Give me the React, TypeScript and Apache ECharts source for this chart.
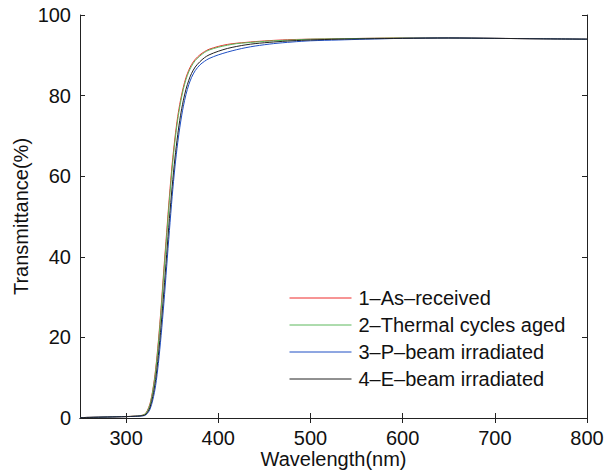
import React, { useEffect, useRef } from "react";
import * as echarts from "echarts";

const wavelengths = [
  250, 260, 270, 280, 290, 300, 310, 315, 320, 323, 326, 329, 332, 335, 338, 341, 344, 347,
  350, 353, 356, 359, 362, 365, 368, 371, 375, 380, 385, 390, 400, 410, 420, 430, 440, 460,
  480, 500, 530, 560, 600, 650, 700, 750, 800,
];

const asReceived = [
  0.1, 0.15, 0.2, 0.25, 0.3, 0.35, 0.45, 0.55, 0.9, 1.8, 3.6, 7, 12, 19, 27.5, 37, 46, 55,
  63, 69.5, 74.8, 78.8, 82, 84.5, 86.3, 87.7, 89, 90.1, 90.9, 91.5, 92.2, 92.7, 93.0, 93.2, 93.4, 93.7,
  93.9, 94.0, 94.1, 94.2, 94.3, 94.3, 94.2, 94.1, 94.0,
];

const thermalAged = [
  0.1, 0.15, 0.2, 0.25, 0.3, 0.35, 0.45, 0.55, 0.9, 1.7, 3.4, 6.7, 11.5, 18.3, 26.7, 36, 45, 54,
  62, 68.7, 74, 78.2, 81.5, 84, 85.9, 87.3, 88.7, 89.8, 90.7, 91.3, 92.0, 92.5, 92.9, 93.1, 93.3, 93.6,
  93.8, 94.0, 94.1, 94.2, 94.3, 94.3, 94.2, 94.1, 94.0,
];

const pBeam = [
  0.1, 0.15, 0.2, 0.25, 0.3, 0.35, 0.4, 0.5, 0.6, 1.1, 2.2, 4.5, 8, 13.5, 20.5, 28.5, 37.5, 46.5,
  55, 62.3, 68.3, 73.2, 77.2, 80.3, 82.7, 84.5, 86.2, 87.6, 88.5, 89.2, 90.1, 90.8, 91.4, 91.9, 92.3, 92.9,
  93.3, 93.6, 93.8, 94.0, 94.2, 94.3, 94.2, 94.1, 94.0,
];

const eBeam = [
  0.1, 0.15, 0.2, 0.25, 0.3, 0.35, 0.45, 0.5, 0.7, 1.3, 2.7, 5.4, 9.5, 15.5, 23, 31.5, 40.5, 49.5,
  57.5, 64.5, 70.3, 75, 78.7, 81.6, 83.8, 85.5, 87.1, 88.4, 89.4, 90.1, 91.0, 91.7, 92.2, 92.6, 92.9, 93.3,
  93.6, 93.8, 94.0, 94.1, 94.2, 94.3, 94.2, 94.1, 94.0,
];

const seriesNames = [
  "1\u2013As\u2013received",
  "2\u2013Thermal cycles aged",
  "3\u2013P\u2013beam irradiated",
  "4\u2013E\u2013beam irradiated",
];
const seriesValues = [asReceived, thermalAged, pBeam, eBeam];
const seriesColors = ["#ee2a2a", "#5cb85c", "#1f4fc4", "#222222"];

const xTicks = [300, 400, 500, 600, 700, 800];

const FONT = "'Liberation Sans', Arial, Helvetica, sans-serif";

export default function App() {
  const ref = useRef<HTMLDivElement>(null);
  useEffect(() => {
    if (!ref.current) return;
    const chart = echarts.init(ref.current, undefined, { renderer: "svg" });
    const axisLine = { show: true, lineStyle: { color: "#222", width: 1 } };
    const tick = { show: true, inside: true, length: 5, lineStyle: { color: "#222" } };
    chart.setOption({
      animation: false,
      backgroundColor: "#fff",
      textStyle: { fontFamily: FONT },
      grid: { left: 80, right: 19, top: 15, bottom: 54, containLabel: false, outerBoundsMode: "none" },
      legend: {
        left: 289,
        top: 288,
        padding: 0,
        orient: "vertical",
        itemWidth: 62,
        itemHeight: 20,
        itemGap: 7,
        itemStyle: { opacity: 0 },
        lineStyle: { width: 1 },
        textStyle: { fontFamily: FONT, fontSize: 20, color: "#111", padding: [0, 0, 0, 2] },
        data: seriesNames,
      },
      xAxis: [
        {
          type: "value",
          min: 250,
          max: 800,
          name: "Wavelength(nm)",
          nameLocation: "middle",
          nameGap: 31,
          nameMoveOverlap: false,
          nameTextStyle: { fontFamily: FONT, fontSize: 20, color: "#111" },
          axisLine,
          axisTick: { ...tick, customValues: xTicks },
          axisLabel: { customValues: xTicks, fontFamily: FONT, fontSize: 20, color: "#111", margin: 10 },
          splitLine: { show: false },
        },
        {
          type: "value",
          position: "top",
          min: 250,
          max: 800,
          axisLine,
          axisTick: { ...tick, customValues: xTicks },
          axisLabel: { show: false, customValues: xTicks },
          splitLine: { show: false },
        },
      ],
      yAxis: [
        {
          type: "value",
          min: 0,
          max: 100,
          interval: 20,
          name: "Transmittance(%)",
          nameLocation: "middle",
          nameGap: 49,
          nameMoveOverlap: false,
          nameTextStyle: { fontFamily: FONT, fontSize: 20, color: "#111" },
          axisLine,
          axisTick: tick,
          axisLabel: { fontFamily: FONT, fontSize: 20, color: "#111", margin: 9 },
          splitLine: { show: false },
        },
        {
          type: "value",
          position: "right",
          min: 0,
          max: 100,
          interval: 20,
          axisLine,
          axisTick: tick,
          axisLabel: { show: false },
          splitLine: { show: false },
        },
      ],
      series: seriesNames.map((name, i) => ({
        name,
        type: "line",
        xAxisIndex: 0,
        yAxisIndex: 0,
        symbol: "none",
        smooth: 0.3,
        color: seriesColors[i],
        lineStyle: { color: seriesColors[i], width: 1 },
        itemStyle: { color: seriesColors[i] },
        data: wavelengths.map((w, j) => [w, seriesValues[i][j]]),
      })),
    });
    return () => chart.dispose();
  }, []);
  return <div ref={ref} style={{ width: 606, height: 472, position: "absolute", left: 0, top: 0 }} />;
}
